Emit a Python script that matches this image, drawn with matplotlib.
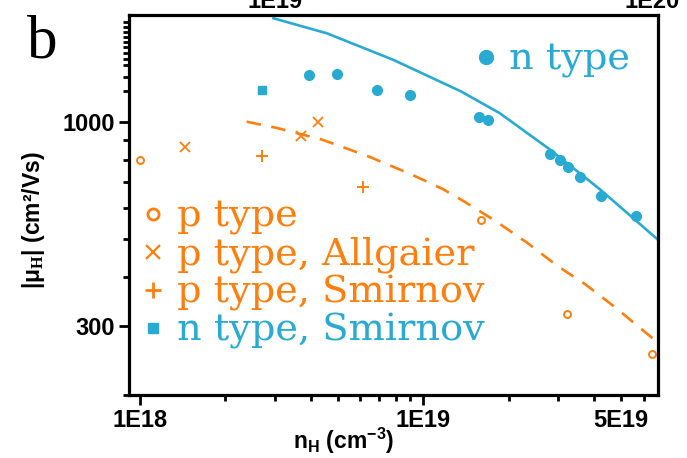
import matplotlib
matplotlib.use('Agg')
import math
import matplotlib.pyplot as plt
from matplotlib.lines import Line2D
from matplotlib.ticker import FixedLocator, FuncFormatter, NullLocator

plt.rcParams['font.family'] = 'Liberation Sans'
plt.rcParams['font.weight'] = 'bold'
plt.rcParams['mathtext.fontset'] = 'custom'
plt.rcParams['mathtext.bf'] = 'Liberation Sans:bold'
plt.rcParams['mathtext.rm'] = 'Liberation Serif'

blue = '#29AAD2'
orange = '#FF7F0E'

# Hall data: carrier density (cm^-3) and Hall mobility (cm^2/Vs)
n_type_n = [3.96e18, 4.95e18, 6.87e18, 8.95e18, 1.57e19, 1.69e19,
            2.81e19, 3.05e19, 3.24e19, 3.57e19, 4.25e19, 5.63e19]
n_type_mu = [1313, 1328, 1207, 1167, 1031, 1008, 828, 800, 766, 720, 645, 573]

p_type_n = [1.0e18, 1.60e19, 3.22e19, 6.42e19]
p_type_mu = [800, 560, 322, 255]

allgaier_n = [1.44e18, 3.70e18, 4.25e18]
allgaier_mu = [862, 918, 996]

smirnov_p_n = [2.69e18, 6.15e18]
smirnov_p_mu = [819, 680]

smirnov_n_n = [2.70e18]
smirnov_n_mu = [1202]

# model curves
n_fit_n = [2.96e18, 4.57e18, 7.85e18, 1.36e19, 1.86e19, 2.80e19, 4.21e19, 6.76e19]
n_fit_mu = [1839, 1683, 1439, 1195, 1052, 849, 671, 498]

p_fit_n = [2.38e18, 3.04e18, 4.39e18, 6.41e18, 9.12e18, 1.17e19, 1.39e19,
           1.80e19, 2.32e19, 2.97e19, 3.73e19, 4.76e19, 6.50e19]
p_fit_mu = [1000, 964, 900, 815, 732, 673, 626, 557, 491, 428, 384, 335, 278]

y_minor = [200, 400, 500, 600, 700, 800, 900, 1200, 1300, 1400, 1450, 1500,
           1550, 1600, 1650, 1700, 1750, 1800]


def sci_label(v, pos):
    return '1E%d' % round(math.log10(v))


fig = plt.figure(figsize=(6.87, 4.58), dpi=100)
ax = fig.add_axes([0.1878, 0.1376, 0.770, 0.8297])

ax.plot(n_fit_n, n_fit_mu, color=blue, lw=1.9)
ax.plot(p_fit_n, p_fit_mu, color=orange, lw=1.9, dashes=(5.5, 4))

ax.plot(n_type_n, n_type_mu, 'o', color=blue, ms=7, mec=blue)
ax.plot(smirnov_n_n, smirnov_n_mu, 's', color=blue, ms=5.5)
ax.plot(p_type_n, p_type_mu, 'o', mfc='none', mec=orange, ms=5, mew=1.4)
ax.plot(allgaier_n, allgaier_mu, 'x', color=orange, ms=7.5, mew=1.3)
ax.plot(smirnov_p_n, smirnov_p_mu, '+', color=orange, ms=9, mew=1.4)

ax.set_xscale('log')
ax.set_yscale('log')
ax.set_xlim(9.15e17, 6.74e19)
ax.set_ylim(200, 1875)

ax.xaxis.set_major_locator(FixedLocator([1e18, 1e19]))
ax.xaxis.set_major_formatter(FuncFormatter(sci_label))
ax.xaxis.set_minor_locator(FixedLocator([k * 10.0 ** e for e in (18, 19) for k in range(2, 10)
                                         if k * 10.0 ** e < 6.74e19]))
ax.xaxis.set_minor_formatter(FuncFormatter(lambda v, p: '5E19' if abs(v - 5e19) < 1e17 else ''))

ax.yaxis.set_major_locator(FixedLocator([300, 1000]))
ax.yaxis.set_major_formatter(FuncFormatter(lambda v, p: '%d' % v))
ax.yaxis.set_minor_locator(FixedLocator(y_minor))
ax.yaxis.set_minor_formatter(FuncFormatter(lambda v, p: ''))

ax.tick_params(which='both', direction='out', width=2, labelsize=17, top=False, right=False)
ax.tick_params(which='major', length=7, pad=3)
ax.tick_params(which='minor', length=4.5, pad=5.5)
for s in ax.spines.values():
    s.set_linewidth(2.3)

# upper axis
ax2 = ax.twiny()
ax2.set_xscale('log')
ax2.set_xlim(10 ** 18.613, 10 ** 20.015)
ax2.xaxis.set_major_locator(FixedLocator([1e19, 1e20]))
ax2.xaxis.set_major_formatter(FuncFormatter(sci_label))
ax2.xaxis.set_minor_locator(NullLocator())
ax2.tick_params(length=0, labelsize=17, pad=1.5)
for s in ax2.spines.values():
    s.set_visible(False)

ax.set_xlabel(r'n$_\mathbf{H}$ (cm$^\mathbf{-3}$)', fontsize=16.5, fontweight='bold')
ax.xaxis.set_label_coords(0.406, -0.08)
ax.set_ylabel(r'|μ$_\mathrm{H}$| (cm²/Vs)', fontsize=16.5, fontweight='bold')
ax.yaxis.set_label_coords(-0.155, 0.46)

legend_font = {'family': 'DejaVu Serif', 'size': 27.5, 'weight': 'normal'}

h_n = [Line2D([], [], ls='none', marker='o', ms=10, color=blue)]
leg1 = ax.legend(h_n, ['n type'], loc='upper left', bbox_to_anchor=(0.653, 0.929),
                 frameon=False, prop=legend_font, handlelength=0.6, handletextpad=0.3,
                 borderpad=0, borderaxespad=0, labelcolor=[blue])
ax.add_artist(leg1)

h_p = [Line2D([], [], ls='none', marker='o', ms=8, mfc='none', mec=orange, mew=2),
       Line2D([], [], ls='none', marker='x', ms=10, color=orange, mew=1.6),
       Line2D([], [], ls='none', marker='+', ms=12, color=orange, mew=2),
       Line2D([], [], ls='none', marker='s', ms=7, color=blue)]
labels_p = ['p type', 'p type, Allgaier', 'p type, Smirnov', 'n type, Smirnov']
ax.legend(h_p, labels_p, loc='upper left', bbox_to_anchor=(0.0236, 0.516),
          frameon=False, prop=legend_font, handlelength=0.6, handletextpad=0.34,
          borderpad=0, borderaxespad=0, labelspacing=0.04,
          labelcolor=[orange, orange, orange, blue])

fig.text(42 / 687, 1 - 58 / 458, 'b', ha='center', va='baseline', fontsize=44,
         family='Liberation Serif', fontweight='normal')

fig.savefig('out.png', dpi=100)
